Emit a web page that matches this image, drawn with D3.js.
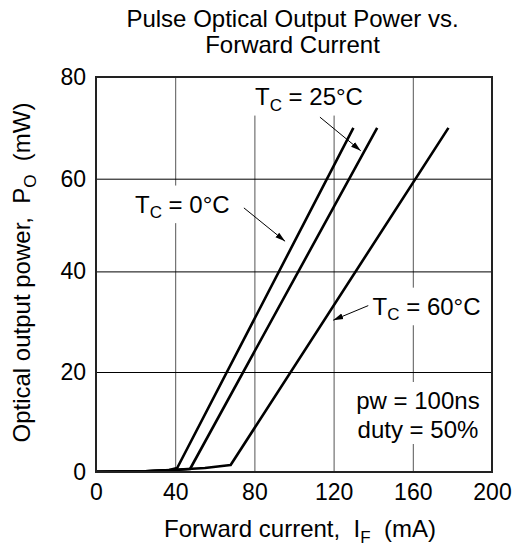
<!DOCTYPE html>
<html>
<head>
<meta charset="utf-8">
<script src="https://cdn.jsdelivr.net/npm/d3@7"></script>
<style>
    body { margin: 0; background: #fff; }
    svg { display: block; font-family: "Liberation Sans", Arial, Helvetica, sans-serif; }
    .axis text { font-size: 23px; fill: #000; }
    .axis .domain { display: none; }
</style>
</head>
<body>
<div id="chart"></div>
<script>
// Tick values
const xTicks = [0, 40, 80, 120, 160, 200];
const yTicks = [0, 20, 40, 60, 80];

// Curves: forward current (mA) and output power (mW)
const current0 = [0, 25, 37, 41, 130];
const power0 = [0.05, 0.15, 0.4, 0.8, 70];
const current25 = [0, 25, 40, 47.5, 142];
const power25 = [0.05, 0.15, 0.4, 0.6, 70];
const current60 = [0, 25, 40, 55, 68, 178];
const power60 = [0.05, 0.15, 0.45, 0.8, 1.4, 70];

const series = [
    { temp: '0', current: current0, power: power0 },
    { temp: '25', current: current25, power: power25 },
    { temp: '60', current: current60, power: power60 }
];

// Where each temperature label and its arrow sit, in data units
const callouts = [
    { temp: '0', x: 19.7, y: 52.7, from: [74.7, 53.7], to: [95.5, 46.5] },
    { temp: '25', x: 80.3, y: 74.5, from: [113.1, 72.1], to: [133.7, 65.5] },
    { temp: '60', x: 139.7, y: 31.4, from: [137.5, 33.2], to: [119.8, 30.3] }
];
const noteLines = ['pw = 100ns', 'duty = 50%'];

const W = 525, H = 547;
const margin = { top: 77, right: 33, bottom: 75, left: 96 };
const width = W - margin.left - margin.right;
const height = H - margin.top - margin.bottom;

const svg = d3.select('#chart').append('svg')
    .attr('width', W)
    .attr('height', H);

const defs = svg.append('defs');
defs.append('marker')
    .attr('id', 'arrow')
    .attr('markerUnits', 'userSpaceOnUse')
    .attr('markerWidth', 10)
    .attr('markerHeight', 8)
    .attr('refX', 10)
    .attr('refY', 4)
    .attr('orient', 'auto')
    .append('path')
    .attr('d', 'M0,1 L10,4 L0,7 Z')
    .attr('fill', '#000');

const g = svg.append('g')
    .attr('transform', `translate(${margin.left},${margin.top})`);

const x = d3.scaleLinear().domain([0, 200]).range([0, width]);
// the printed grid is a little uneven, so map each gridline to where it sits
const y = d3.scaleLinear()
    .domain(yTicks)
    .range([height, height - 100, height - 200.6, height - 293.3, 0]);

// Grid lines
g.append('g')
    .attr('class', 'grid-x')
    .attr('transform', `translate(0,${height})`)
    .call(d3.axisBottom(x).tickValues(xTicks).tickSize(-height).tickFormat(''))
    .call(s => s.select('.domain').remove())
    .selectAll('line')
    .attr('stroke', '#555')
    .attr('stroke-width', 1);

g.append('g')
    .attr('class', 'grid-y')
    .call(d3.axisLeft(y).tickValues(yTicks).tickSize(-width).tickFormat(''))
    .call(s => s.select('.domain').remove())
    .selectAll('line')
    .attr('stroke', '#000')
    .attr('stroke-width', 1);

// Labels (with white boxes that break the grid lines)
const labelLayer = g.append('g');

callouts.forEach(c => {
    const lg = labelLayer.append('g');
    const t = lg.append('text')
        .attr('x', x(c.x))
        .attr('y', y(c.y))
        .attr('font-size', 24)
        .attr('fill', '#000');
    t.append('tspan').text('T');
    t.append('tspan').attr('font-size', 17).attr('dy', 5.6).text('C');
    t.append('tspan').attr('dy', -5.6).text(` = ${c.temp}\u00B0C`);
    const b = t.node().getBBox();
    lg.insert('rect', 'text')
        .attr('x', b.x - 4)
        .attr('y', b.y - 5)
        .attr('width', b.width + 8)
        .attr('height', b.height + 6)
        .attr('fill', '#fff');
});

const note = labelLayer.append('g');
const noteText = note.append('text')
    .attr('text-anchor', 'middle')
    .attr('font-size', 24)
    .attr('fill', '#000');
noteText.selectAll('tspan')
    .data(noteLines)
    .enter()
    .append('tspan')
    .attr('x', x(162.6))
    .attr('y', (d, i) => y(i === 0 ? 12.6 : 6.8))
    .text(d => d);
const nb = noteText.node().getBBox();
note.insert('rect', 'text')
    .attr('x', nb.x - 4)
    .attr('y', nb.y - 5)
    .attr('width', nb.width + 8)
    .attr('height', nb.height + 6)
    .attr('fill', '#fff');

// Arrows
g.selectAll('.callout-arrow')
    .data(callouts)
    .enter()
    .append('line')
    .attr('class', 'callout-arrow')
    .attr('x1', d => x(d.from[0]))
    .attr('y1', d => y(d.from[1]))
    .attr('x2', d => x(d.to[0]))
    .attr('y2', d => y(d.to[1]))
    .attr('stroke', '#000')
    .attr('stroke-width', 1)
    .attr('marker-end', 'url(#arrow)');

// Curves
const line = d3.line()
    .x(d => x(d[0]))
    .y(d => y(d[1]));

g.selectAll('.curve')
    .data(series)
    .enter()
    .append('path')
    .attr('class', 'curve')
    .attr('d', d => line(d.current.map((c, i) => [c, d.power[i]])))
    .attr('fill', 'none')
    .attr('stroke', '#000')
    .attr('stroke-width', 2.6)
    .attr('stroke-linejoin', 'round');

// Frame
g.append('rect')
    .attr('width', width)
    .attr('height', height)
    .attr('fill', 'none')
    .attr('stroke', '#222')
    .attr('stroke-width', 2);

// Axes (labels only)
g.append('g')
    .attr('class', 'axis')
    .attr('transform', `translate(0,${height})`)
    .call(d3.axisBottom(x).tickValues(xTicks).tickSize(0).tickPadding(11.5))
    .selectAll('text')
    .attr('font-family', null);

g.append('g')
    .attr('class', 'axis')
    .call(d3.axisLeft(y).tickValues(yTicks).tickSize(0).tickPadding(10))
    .selectAll('text')
    .attr('font-family', null);

svg.selectAll('.axis').attr('font-family', null).attr('font-size', null);

// Title
const title = svg.append('text')
    .attr('text-anchor', 'middle')
    .attr('font-size', 24)
    .attr('fill', '#000');
title.append('tspan').attr('x', 292.5).attr('y', 26.7).text('Pulse Optical Output Power vs.');
title.append('tspan').attr('x', 292.5).attr('y', 53).text('Forward Current');

// X axis title
const xTitle = svg.append('text')
    .attr('x', 300)
    .attr('y', 537)
    .attr('text-anchor', 'middle')
    .attr('font-size', 24)
    .attr('fill', '#000')
    .style('white-space', 'pre');
xTitle.append('tspan').text('Forward current,  I');
xTitle.append('tspan').attr('font-size', 17).attr('dy', 5.6).text('F');
xTitle.append('tspan').attr('dy', -5.6).text('  (mA)');

// Y axis title
const yTitle = svg.append('text')
    .attr('transform', 'translate(30,272.5) rotate(-90)')
    .attr('text-anchor', 'middle')
    .attr('font-size', 24)
    .attr('fill', '#000')
    .style('white-space', 'pre');
yTitle.append('tspan').text('Optical output power,  P');
yTitle.append('tspan').attr('font-size', 17).attr('dy', 5.6).text('O');
yTitle.append('tspan').attr('dy', -5.6).text('  (mW)');
</script>
</body>
</html>
